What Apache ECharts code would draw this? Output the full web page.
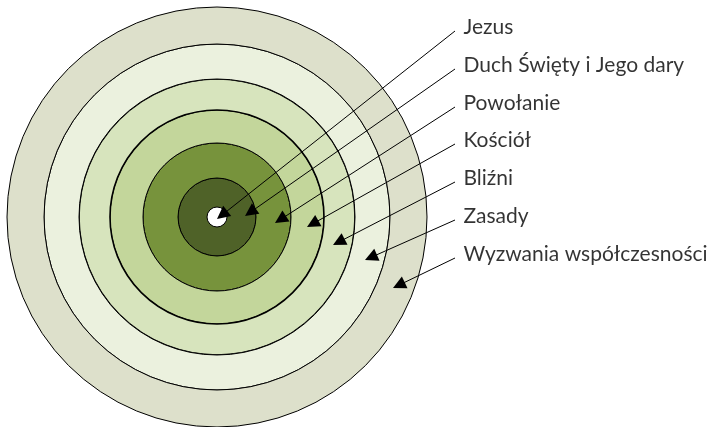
<!DOCTYPE html>
<html>
<head>
<meta charset="utf-8">
<script src="https://cdn.jsdelivr.net/npm/echarts@6/dist/echarts.min.js"></script>
<style>
  html, body { margin: 0; padding: 0; background: #fff; }
  #main { width: 720px; height: 427px; }
</style>
</head>
<body>
<div id="main"></div>
<script>
// etykiety, od środka na zewnątrz
const labels = ['Jezus', 'Duch Święty i Jego dary', 'Powołanie', 'Kościół', 'Bliźni', 'Zasady', 'Wyzwania współczesności'];
// promienie okręgów (od środka)
const ringRadii = [10, 39, 74, 107, 138, 173, 210];
const ringColors = ['#4f6228', '#77933c', '#c3d69b', '#d7e4bd', '#ebf1de', '#dde0cb'];
// środek tarczy
const ringCenter = [217, 217];
// wysokość etykiet (oś y od góry)
const labelY = [27, 65, 103, 140, 178, 216, 254];
const labelX = 455;
// początek linii przy etykiecie
const lineStartY = [31, 69, 107, 144, 182, 220, 258];
// groty strzałek
const arrowTips = [[217, 219], [245, 216], [275, 223], [307, 227], [333, 245], [365, 260], [393, 288]];
const arrowSize = [14, 13];

var myChart = echarts.init(document.getElementById('main'));

// pierścienie jako pie
const ringSeries = ringColors.map((c, i) => ({
  type: 'pie',
  center: ringCenter,
  radius: [ringRadii[i], ringRadii[i + 1]],
  silent: true,
  animation: false,
  label: { show: false },
  labelLine: { show: false },
  itemStyle: { color: c, borderColor: '#000', borderWidth: i === 3 ? 1.6 : 1 },
  data: [{ value: 1 }]
}));

// linie ze strzałkami - koniec linii przesunięty o pół grotu
const arrowData = arrowTips.map((tip, i) => {
  const sx = labelX, sy = lineStartY[i];
  const dx = tip[0] - sx, dy = tip[1] - sy;
  const len = Math.sqrt(dx * dx + dy * dy);
  const back = arrowSize[1] / 2;
  return { coords: [[sx, sy], [tip[0] - dx / len * back, tip[1] - dy / len * back]] };
});

var option = {
  animation: false,
  grid: { left: 0, right: 0, top: 0, bottom: 0 },
  xAxis: { type: 'value', min: 0, max: 720, show: false },
  yAxis: { type: 'value', min: 0, max: 427, inverse: true, show: false },
  series: ringSeries.concat([
    {
      type: 'lines',
      coordinateSystem: 'cartesian2d',
      symbol: ['none', 'triangle'],
      symbolSize: arrowSize,
      lineStyle: { color: '#000', width: 1, opacity: 1 },
      itemStyle: { color: '#000' },
      z: 10,
      data: arrowData
    },
    {
      type: 'scatter',
      symbolSize: 1,
      itemStyle: { color: 'rgba(0,0,0,0)' },
      label: {
        show: true,
        position: 'right',
        distance: 8,
        color: '#000',
        fontFamily: 'Lato',
        fontSize: 21,
        formatter: p => p.name
      },
      data: labels.map((l, i) => ({ name: l, value: [labelX, labelY[i]] }))
    }
  ])
};
myChart.setOption(option);
</script>
</body>
</html>
